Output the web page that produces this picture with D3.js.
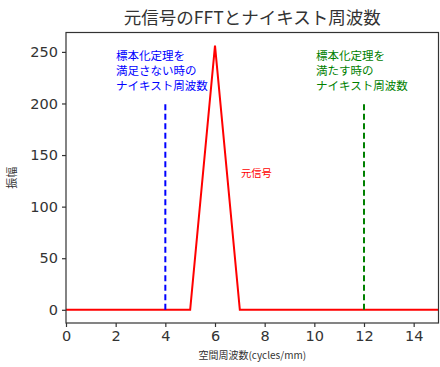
<!DOCTYPE html>
<html><head><meta charset="utf-8">
<script src="https://cdn.jsdelivr.net/npm/d3@7"></script>
<style>body{margin:0;background:#fff}svg{display:block}text{font-family:"Noto Sans CJK JP","Noto Sans",sans-serif}</style>
</head><body><svg id="c" width="440" height="367"></svg>
<script>
const freq = [0,1,2,3,4,5,6,7,8,9,10,11,12,13,14,15];
const amplitude = [0,0,0,0,0,0,256,0,0,0,0,0,0,0,0,0];
const xTicks = [0,2,4,6,8,10,12,14];
const yTicks = [0,50,100,150,200,250];
const nyquistLow = 4, nyquistHigh = 12, nyquistHeight = 200;
const title = "元信号のFFTとナイキスト周波数";
const xLabel = "空間周波数(cycles/mm)";
const yLabel = "振幅";
const lowText = ["標本化定理を","満足さない時の","ナイキスト周波数"];
const highText = ["標本化定理を","満たす時の","ナイキスト周波数"];
const signalLabel = "元信号";

const svg = d3.select("#c");
const L=66, R=438.5, T=32.5, B=323;
const x = d3.scaleLinear().domain([0,15]).range([L,R]);
const y = d3.scaleLinear().domain([-12.8,268.8]).range([B,T]);
const ink = "#333";

const g = svg.append("g");
g.append("path").datum(freq.map((f,i)=>[f,amplitude[i]]))
  .attr("fill","none").attr("stroke","red").attr("stroke-width",2)
  .attr("d", d3.line().x(d=>x(d[0])).y(d=>y(d[1])));
g.append("line").attr("x1",x(nyquistLow)).attr("x2",x(nyquistLow)).attr("y1",y(0)).attr("y2",y(nyquistHeight))
  .attr("stroke","blue").attr("stroke-width",2).attr("stroke-dasharray","6,3.5");
g.append("line").attr("x1",x(nyquistHigh)).attr("x2",x(nyquistHigh)).attr("y1",y(0)).attr("y2",y(nyquistHeight))
  .attr("stroke","green").attr("stroke-width",2).attr("stroke-dasharray","6,3.5");

svg.append("rect").attr("x",L).attr("y",T).attr("width",R-L).attr("height",B-T)
  .attr("fill","none").attr("stroke",ink).attr("stroke-width",1.2);

const xa = svg.append("g").attr("transform",`translate(0,${B})`)
  .call(d3.axisBottom(x).tickValues(xTicks).tickSize(4).tickPadding(4).tickFormat(d3.format("d")));
const ya = svg.append("g").attr("transform",`translate(${L},0)`)
  .call(d3.axisLeft(y).tickValues(yTicks).tickSize(4).tickPadding(4).tickFormat(d3.format("d")));
[xa,ya].forEach(a=>{
  a.select(".domain").remove();
  a.selectAll("line").attr("stroke",ink).attr("stroke-width",1.2);
  a.selectAll("text").attr("fill",ink).style("font-size","14.5px").style("font-family","'DejaVu Sans',sans-serif");
});

svg.append("text").attr("x",(L+R)/2).attr("y",24).attr("text-anchor","middle")
  .attr("fill",ink).style("font-size","17.5px").text(title);
svg.append("text").attr("x",(L+R)/2).attr("y",359).attr("text-anchor","middle")
  .attr("fill",ink).style("font-size","10px").text(xLabel);
svg.append("text").attr("transform",`translate(16,${(T+B)/2}) rotate(-90)`).attr("text-anchor","middle")
  .attr("fill",ink).style("font-size","11px").text(yLabel);

function block(lines, px, color){
  lines.forEach((t,i)=>svg.append("text").attr("x",px).attr("y",60+i*15)
    .attr("fill",color).style("font-size","11.5px").text(t));
}
block(lowText, 116, "blue");
block(highText, 316, "green");
svg.append("text").attr("x",241).attr("y",177).attr("fill","red").style("font-size","10.3px").text(signalLabel);
</script></body></html>
